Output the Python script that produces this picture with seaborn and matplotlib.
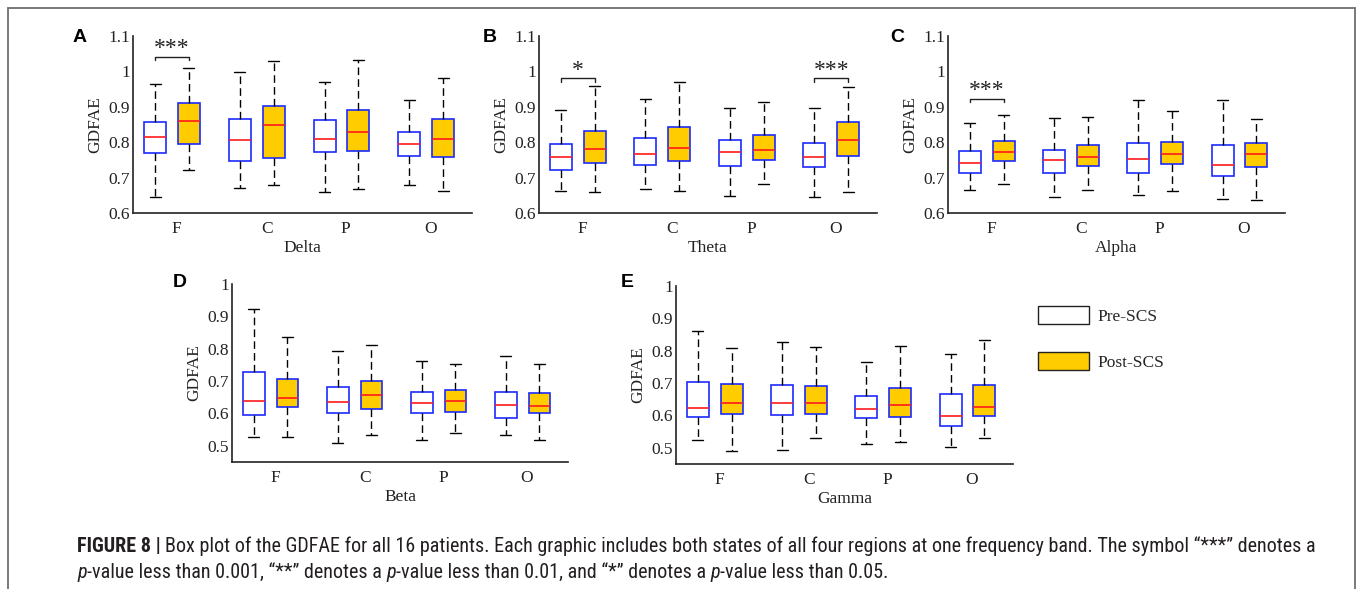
import numpy as np
import pandas as pd
import matplotlib
matplotlib.use("Agg")
import matplotlib.pyplot as plt
from matplotlib.patches import Patch, Rectangle
from matplotlib import font_manager
import seaborn as sns

# ---------------- data (five-number summaries) -------------
regions = ["F", "C", "P", "O"]
states = ["Pre-SCS", "Post-SCS"]
bands = ["Delta", "Theta", "Alpha", "Beta", "Gamma"]

# each entry: [min, q1, median, q3, max]
delta_pre = [[0.646, 0.770, 0.816, 0.858, 0.964],
             [0.672, 0.747, 0.806, 0.865, 0.998],
             [0.659, 0.772, 0.808, 0.862, 0.969],
             [0.678, 0.761, 0.794, 0.829, 0.919]]
delta_post = [[0.721, 0.794, 0.861, 0.911, 1.011],
              [0.680, 0.756, 0.850, 0.902, 1.029],
              [0.668, 0.775, 0.828, 0.890, 1.032],
              [0.663, 0.757, 0.809, 0.865, 0.980]]
theta_pre = [[0.663, 0.722, 0.757, 0.794, 0.891],
             [0.668, 0.735, 0.767, 0.811, 0.923],
             [0.648, 0.733, 0.773, 0.807, 0.896],
             [0.645, 0.729, 0.758, 0.797, 0.898]]
theta_post = [[0.658, 0.741, 0.782, 0.832, 0.958],
              [0.663, 0.747, 0.783, 0.842, 0.969],
              [0.682, 0.749, 0.779, 0.819, 0.913],
              [0.660, 0.761, 0.807, 0.856, 0.956]]
alpha_pre = [[0.665, 0.712, 0.741, 0.775, 0.855],
             [0.645, 0.712, 0.750, 0.777, 0.868],
             [0.652, 0.713, 0.753, 0.797, 0.918],
             [0.640, 0.704, 0.736, 0.792, 0.920]]
alpha_post = [[0.682, 0.746, 0.773, 0.804, 0.877],
              [0.665, 0.733, 0.759, 0.792, 0.872],
              [0.662, 0.739, 0.767, 0.801, 0.888],
              [0.638, 0.729, 0.767, 0.798, 0.866]]
beta_pre = [[0.528, 0.595, 0.639, 0.729, 0.924],
            [0.510, 0.602, 0.636, 0.682, 0.793],
            [0.518, 0.601, 0.633, 0.665, 0.761],
            [0.534, 0.587, 0.626, 0.665, 0.776]]
beta_post = [[0.528, 0.619, 0.648, 0.707, 0.836],
             [0.532, 0.614, 0.657, 0.700, 0.811],
             [0.540, 0.606, 0.637, 0.674, 0.753],
             [0.518, 0.602, 0.623, 0.662, 0.754]]
gamma_pre = [[0.525, 0.594, 0.622, 0.704, 0.862],
             [0.493, 0.601, 0.637, 0.694, 0.826],
             [0.511, 0.591, 0.620, 0.660, 0.765],
             [0.504, 0.567, 0.599, 0.665, 0.789]]
gamma_post = [[0.491, 0.604, 0.639, 0.696, 0.808],
              [0.530, 0.603, 0.639, 0.691, 0.811],
              [0.519, 0.595, 0.633, 0.684, 0.816],
              [0.529, 0.597, 0.625, 0.695, 0.832]]

band_values = {
    "Delta": (delta_pre, delta_post),
    "Theta": (theta_pre, theta_post),
    "Alpha": (alpha_pre, alpha_post),
    "Beta": (beta_pre, beta_post),
    "Gamma": (gamma_pre, gamma_post),
}
panel_letters = ["A", "B", "C", "D", "E"]
band_ylims = {"Delta": (0.6, 1.1), "Theta": (0.6, 1.1), "Alpha": (0.6, 1.1),
              "Beta": (0.45, 1.0), "Gamma": (0.45, 1.0)}
band_yticks = {"Delta": [0.6, 0.7, 0.8, 0.9, 1.0, 1.1],
               "Theta": [0.6, 0.7, 0.8, 0.9, 1.0, 1.1],
               "Alpha": [0.6, 0.7, 0.8, 0.9, 1.0, 1.1],
               "Beta": [0.5, 0.6, 0.7, 0.8, 0.9, 1.0],
               "Gamma": [0.5, 0.6, 0.7, 0.8, 0.9, 1.0]}
ytick_labels_long = ["0.6", "0.7", "0.8", "0.9", "1", "1.1"]
ytick_labels_short = ["0.5", "0.6", "0.7", "0.8", "0.9", "1"]
# significance brackets: (band, region, bracket level, label)
sig_marks = [("Delta", "F", 1.041, "***"),
             ("Theta", "F", 0.980, "*"),
             ("Theta", "O", 0.980, "***"),
             ("Alpha", "F", 0.923, "***")]

rows = []
for band, (pre, post) in band_values.items():
    for ri, reg in enumerate(regions):
        for st, vals in zip(states, (pre[ri], post[ri])):
            for v in vals:
                rows.append({"band": band, "region": reg, "state": st, "value": v})
df = pd.DataFrame(rows)

# ---------------- style ----------------
W, H = 1357, 589
sns.set_style("white")
plt.rcParams["font.family"] = ["Liberation Serif", "DejaVu Serif"]
plt.rcParams["axes.unicode_minus"] = False

fig = plt.figure(figsize=(W / 100, H / 100), dpi=100)

# axes rectangles in pixels: (left, right, top, bottom)
axes_px = [(133, 472, 36, 213), (539, 877, 36, 213), (948, 1285, 36, 213),
           (232, 568, 284, 462), (676, 1013, 286, 464)]
letter_px = [(73, 42), (483, 42), (890, 42), (173, 287), (621, 287)]
tick_shift = [0.05, 0.12, 0.05, 0.05]

palette = {"Pre-SCS": "white", "Post-SCS": "#FFCC00"}
box_blue = "#1a2bff"

for i, band in enumerate(bands):
    l, r, t, b = axes_px[i]
    ax = fig.add_axes([l / W, 1 - b / H, (r - l) / W, (b - t) / H])
    sub = df[df["band"] == band]
    sns.boxplot(data=sub, x="region", y="value", hue="state", order=regions,
                hue_order=states, palette=palette, saturation=1, width=0.8,
                gap=0.35, whis=(0, 100), showfliers=False, linecolor=box_blue,
                linewidth=1.1, legend=False, ax=ax,
                boxprops=dict(edgecolor=box_blue, linewidth=1.2),
                medianprops=dict(color="#ff1a1a", linewidth=1.2),
                whiskerprops=dict(color="black", linewidth=1.0,
                                  linestyle=(0, (5.5, 3.0))),
                capprops=dict(color="black", linewidth=1.0))
    ax.set_xlim(-0.46, 3.54)
    ax.set_ylim(*band_ylims[band])
    ax.set_yticks(band_yticks[band])
    ax.set_yticklabels(ytick_labels_long if band_ylims[band][1] > 1.05
                       else ytick_labels_short)
    ax.set_xticks(np.arange(len(regions)) + np.array(tick_shift))
    ax.set_xticklabels(regions)
    for s in ["top", "right"]:
        ax.spines[s].set_visible(False)
    for s in ["left", "bottom"]:
        ax.spines[s].set_color("#222222")
        ax.spines[s].set_linewidth(1.2)
    ax.tick_params(axis="y", direction="in", length=3, width=0.9,
                   labelsize=12.5, pad=2, colors="#222222")
    ax.tick_params(axis="x", length=0, labelsize=12.5, pad=6, colors="#222222")
    ax.set_xlabel(band, fontsize=12.5, labelpad=2, color="#222222")
    ax.set_ylabel("GDFAE", fontsize=12.5, labelpad=4, color="#222222")
    ax.set_facecolor("none")

    for (bnd, reg, yv, lab) in sig_marks:
        if bnd != band:
            continue
        xc = regions.index(reg)
        x0, x1 = xc - 0.2, xc + 0.2
        drop = 0.009 * (band_ylims[band][1] - band_ylims[band][0]) / 0.5
        ax.plot([x0, x0, x1, x1], [yv - drop, yv, yv, yv - drop],
                color="#222222", lw=1.0, clip_on=False)
        ax.text(xc, yv + 0.008, lab, ha="center", va="baseline",
                fontsize=17, color="#222222", clip_on=False)

    lx, ly = letter_px[i]
    fig.text(lx / W, 1 - ly / H, panel_letters[i], fontsize=14,
             fontweight="bold", family=["Liberation Sans", "DejaVu Sans"],
             ha="left", va="baseline", color="black")

# legend
handles = [Patch(facecolor=palette[s], edgecolor="#222222", linewidth=1.0)
           for s in states]
fig.legend(handles=handles, labels=states, loc="upper left",
           bbox_to_anchor=(1038 / W, 1 - 306 / H), frameon=False,
           handlelength=2.95, handleheight=1.25, labelspacing=1.55,
           handletextpad=0.45, borderpad=0, borderaxespad=0,
           prop={"family": ["Liberation Serif", "DejaVu Serif"], "size": 12.5})

# figure border
fig.add_artist(Rectangle((7.5 / W, -0.02), (1355 - 7.5) / W, (589 - 8) / H + 0.02,
                         transform=fig.transFigure, fill=False,
                         edgecolor="#6e6e6e", linewidth=1.3))

# caption font: prefer a narrow sans family if one is installed
flist = font_manager.fontManager.ttflist
names = {f.name for f in flist}
cap_family = "Liberation Sans"
cap_stretch = "normal"
for cand in ["Liberation Sans Narrow", "Arial Narrow", "Roboto Condensed",
             "Open Sans Condensed", "Noto Sans Condensed"]:
    if cand in names:
        cap_family = cand
        break
else:
    narrow = [f for f in flist if ("Narrow" in f.name or "Condensed" in f.name)]
    if narrow:
        cap_family = narrow[0].name

renderer = fig.canvas.get_renderer()


def seg_kw(style):
    return dict(fontweight="bold" if style == "b" else "normal",
                fontstyle="italic" if style == "i" else "normal",
                fontstretch=cap_stretch)


def text_w(s, size, style):
    t = fig.text(0, 0, s, fontsize=size, family=cap_family, **seg_kw(style))
    w = t.get_window_extent(renderer).width
    t.remove()
    return w


def space_w(size, style):
    return text_w("a a", size, style) - text_w("aa", size, style)


line1 = [("FIGURE 8 |", "b", False),
         ("Box plot of the GDFAE for all 16 patients. Each graphic includes both "
          "states of all four regions at one frequency band. The symbol \u201c***\u201d "
          "denotes a", "r", True)]
line2 = [("p", "i", False), ("-value less than 0.001, \u201c**\u201d denotes a", "r", False),
         ("p", "i", True), ("-value less than 0.01, and \u201c*\u201d denotes a", "r", False),
         ("p", "i", True), ("-value less than 0.05.", "r", False)]


def line_width(segs, size):
    w = 0
    for s, st, sp in segs:
        if sp:
            w += space_w(size, st)
        w += text_w(s, size, st)
    return w


base = 10.0
cap_size = base * (1310 - 77) / line_width(line1, base)


def put_line(x_px, y_px, segs, size):
    x = x_px
    for s, st, sp in segs:
        if sp:
            x += space_w(size, st)
        t = fig.text(x / W, 1 - y_px / H, s, fontsize=size, family=cap_family,
                     ha="left", va="baseline", color="#231f20", **seg_kw(st))
        x += t.get_window_extent(renderer).width


put_line(77, 552, line1, cap_size)
put_line(77, 578, line2, cap_size)

fig.savefig("out.png", dpi=100)
